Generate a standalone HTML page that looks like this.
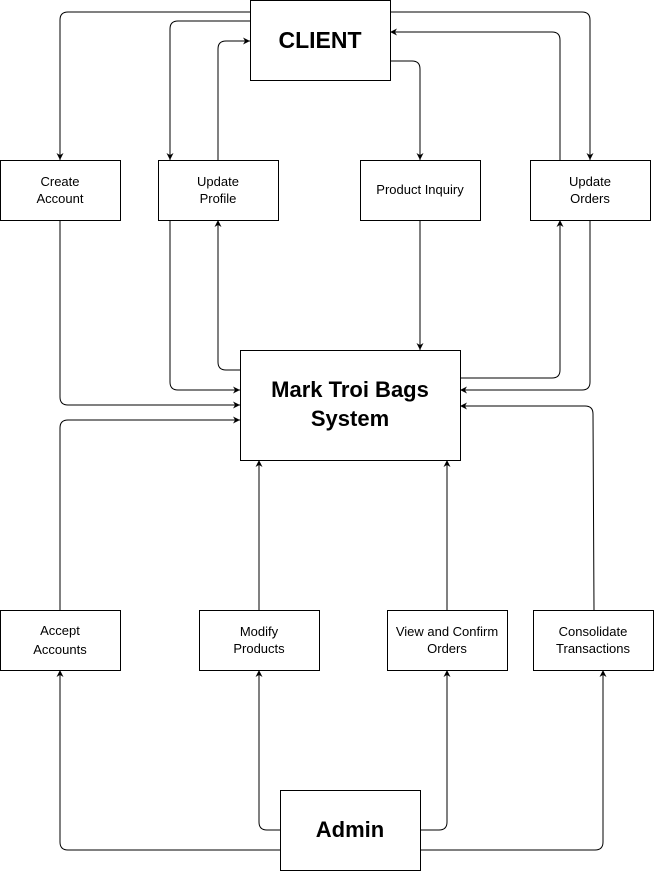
<!DOCTYPE html>
<html><head><style>
html,body{margin:0;padding:0;background:#fff;}
svg{display:block;}
text{font-family:"Liberation Sans",Arial,sans-serif;fill:#000;}
</style></head><body>
<svg width="655" height="874" viewBox="0 0 655 874" xmlns="http://www.w3.org/2000/svg">
<defs>
<marker id="a" viewBox="0 0 10 10" refX="10" refY="5" markerWidth="7" markerHeight="7" orient="auto" markerUnits="userSpaceOnUse">
<path d="M0,0 L10,5 L0,10 L3,5 z" fill="#000"/>
</marker>
</defs>
<g fill="none" stroke="#000" stroke-width="1" marker-end="url(#a)">
<path d="M250,12 H68 Q60,12 60,20 V160"/>
<path d="M250,21 H178 Q170,21 170,29 V160"/>
<path d="M218,160 V49 Q218,41 226,41 H250"/>
<path d="M390,61 H412 Q420,61 420,69 V160"/>
<path d="M390,12 H582 Q590,12 590,20 V160"/>
<path d="M560,160 V40 Q560,32 552,32 H390"/>
<path d="M60,220 V397 Q60,405 68,405 H240"/>
<path d="M170,220 V382 Q170,390 178,390 H240"/>
<path d="M240,370 H226 Q218,370 218,362 V220"/>
<path d="M420,220 V350"/>
<path d="M460,378 H552 Q560,378 560,370 V220"/>
<path d="M590,220 V382 Q590,390 582,390 H460"/>
<path d="M594,610 L593,414 Q593,406 585,406 H460"/>
<path d="M60,610 V428 Q60,420 68,420 H240"/>
<path d="M259,610 V460"/>
<path d="M447,610 V460"/>
<path d="M280,850 H68 Q60,850 60,842 V670"/>
<path d="M280,830 H267 Q259,830 259,822 V670"/>
<path d="M420,830 H439 Q447,830 447,822 V670"/>
<path d="M420,850 H595 Q603,850 603,842 V670"/>
</g>
<g fill="#fff" stroke="#000" stroke-width="1">
<rect x="250.5" y="0.5" width="140" height="80"/>
<rect x="0.5" y="160.5" width="120" height="60"/>
<rect x="158.5" y="160.5" width="120" height="60"/>
<rect x="360.5" y="160.5" width="120" height="60"/>
<rect x="530.5" y="160.5" width="120" height="60"/>
<rect x="240.5" y="350.5" width="220" height="110"/>
<rect x="0.5" y="610.5" width="120" height="60"/>
<rect x="199.5" y="610.5" width="120" height="60"/>
<rect x="387.5" y="610.5" width="120" height="60"/>
<rect x="533.5" y="610.5" width="120" height="60"/>
<rect x="280.5" y="790.5" width="140" height="80"/>
</g>
<g font-size="13" text-anchor="middle">
<text x="320" y="48" font-size="23" font-weight="bold">CLIENT</text>
<text x="60" y="186">Create</text><text x="60" y="203">Account</text>
<text x="218" y="186">Update</text><text x="218" y="203">Profile</text>
<text x="420" y="194">Product Inquiry</text>
<text x="590" y="186">Update</text><text x="590" y="203">Orders</text>
<text x="350" y="397" font-size="22" font-weight="bold">Mark Troi Bags</text>
<text x="350" y="426" font-size="22" font-weight="bold">System</text>
<text x="60" y="635">Accept</text><text x="60" y="654">Accounts</text>
<text x="259" y="636">Modify</text><text x="259" y="653">Products</text>
<text x="447" y="636">View and Confirm</text><text x="447" y="653">Orders</text>
<text x="593" y="636">Consolidate</text><text x="593" y="653">Transactions</text>
<text x="350" y="837" font-size="22" font-weight="bold">Admin</text>
</g>
</svg>
</body></html>
